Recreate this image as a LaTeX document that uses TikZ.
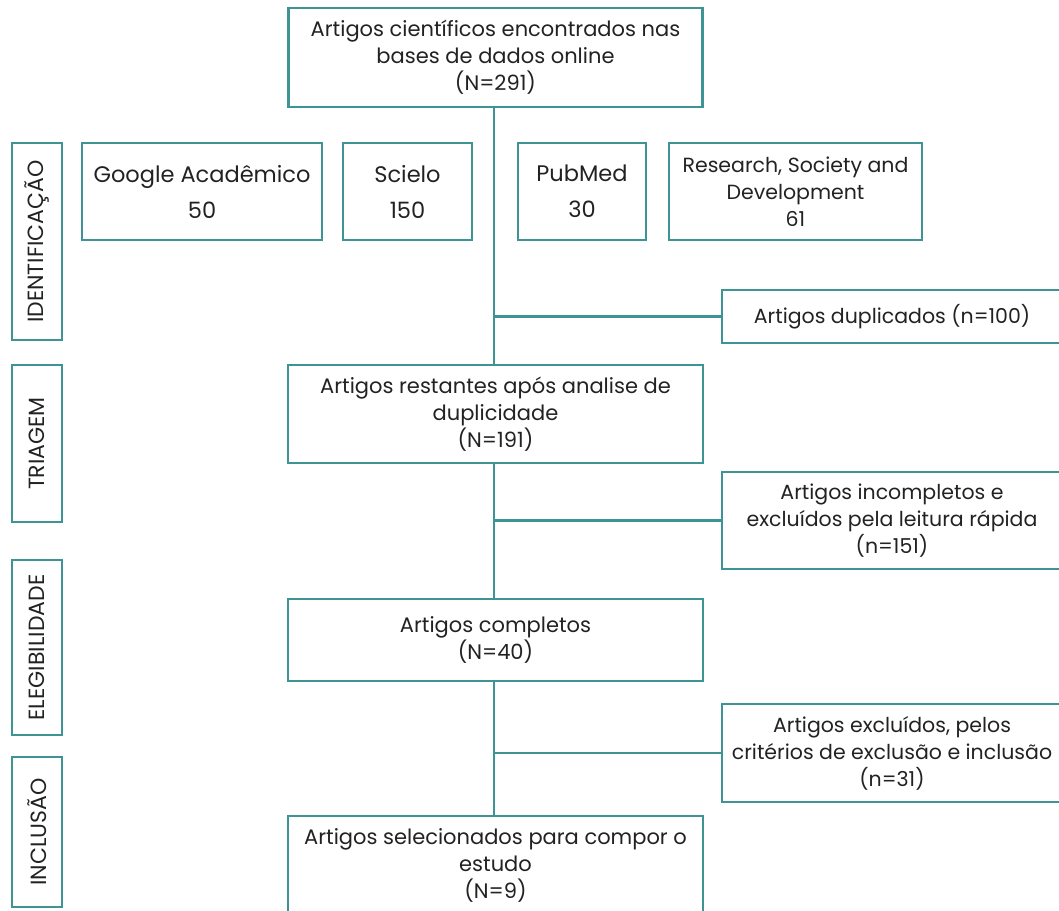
\documentclass[tikz,border=0pt]{standalone}
\usepackage{fontspec}
\setmainfont{Poppins}
\definecolor{teal1}{RGB}{62,148,148}
\definecolor{ink}{RGB}{34,34,34}
\tikzset{
  box/.style={draw=teal1, line width=2.2pt, rectangle, inner sep=0pt, align=center,
    text=ink, font=\fontsize{21}{27}\selectfont},
  srcbox/.style={box, font=\fontsize{22.5}{36}\selectfont},
  phase/.style={box, rotate=90, minimum height=50pt, font=\fontsize{22}{24}\selectfont},
  link/.style={draw=teal1, line width=2.2pt}
}
\begin{document}
\begin{tikzpicture}[x=1pt,y=-1pt]
\useasboundingbox (0,0) rectangle (1059,910);
\clip (0,0) rectangle (1059,910);
% phase labels
\node[phase, minimum width=197pt] (ident) at (37,241.5) {IDENTIFICAÇÃO};
\node[phase, minimum width=157pt] (triag) at (37,443.5) {TRIAGEM};
\node[phase, minimum width=175pt] (eleg) at (37,647.5) {ELEGIBILIDADE};
\node[phase, minimum width=150pt] (incl) at (37,832) {INCLUSÃO};
% main column
\node[box, minimum width=414pt, minimum height=99pt] (top) at (495.5,57.5)
  {Artigos científicos encontrados nas\\bases de dados online\\(N=291)};
\node[box, minimum width=415pt, minimum height=98pt] (rest) at (495.5,414)
  {Artigos restantes após analise de\\duplicidade\\(N=191)};
\node[box, minimum width=415pt, minimum height=82pt] (comp) at (495.5,640)
  {Artigos completos\\(N=40)};
\node[box, minimum width=415pt, minimum height=99pt] (sel) at (495.5,865.5)
  {Artigos selecionados para compor o\\estudo\\(N=9)};
% sources
\node[srcbox, minimum width=240pt, minimum height=97pt] (google) at (202,191.5)
  {Google Acadêmico\\50};
\node[srcbox, minimum width=129pt, minimum height=97pt] (scielo) at (407.5,191.5)
  {Scielo\\150};
\node[srcbox, minimum width=128pt, minimum height=97pt] (pubmed) at (582,191.5)
  {PubMed\\30};
\node[box, font=\fontsize{20.5}{27}\selectfont, minimum width=253pt, minimum height=97pt] (rsd) at (795.5,191.5)
  {Research, Society and\\Development\\61};
% exclusions
\node[box, font=\fontsize{20.5}{27}\selectfont, minimum width=340pt, minimum height=53pt] (dup) at (892,316.5)
  {Artigos duplicados (n=100)};
\node[box, font=\fontsize{20.5}{27}\selectfont, minimum width=340pt, minimum height=97pt] (inc) at (892,520.5)
  {Artigos incompletos e\\excluídos pela leitura rápida\\(n=151)};
\node[box, font=\fontsize{20.5}{27}\selectfont, minimum width=340pt, minimum height=98pt] (exc) at (892,753)
  {Artigos excluídos, pelos\\critérios de exclusão e inclusão\\(n=31)};
% trunk and branches
\coordinate (tx) at (494,0);
\draw[link] (top.south -| tx) -- (rest.north -| tx);
\draw[link] (rest.south -| tx) -- (comp.north -| tx);
\draw[link] (comp.south -| tx) -- (sel.north -| tx);
\draw[link] (tx |- dup.west) -- (dup.west);
\draw[link] (tx |- inc.west) -- (inc.west);
\draw[link] (tx |- exc.west) -- (exc.west);
\end{tikzpicture}
\end{document}
